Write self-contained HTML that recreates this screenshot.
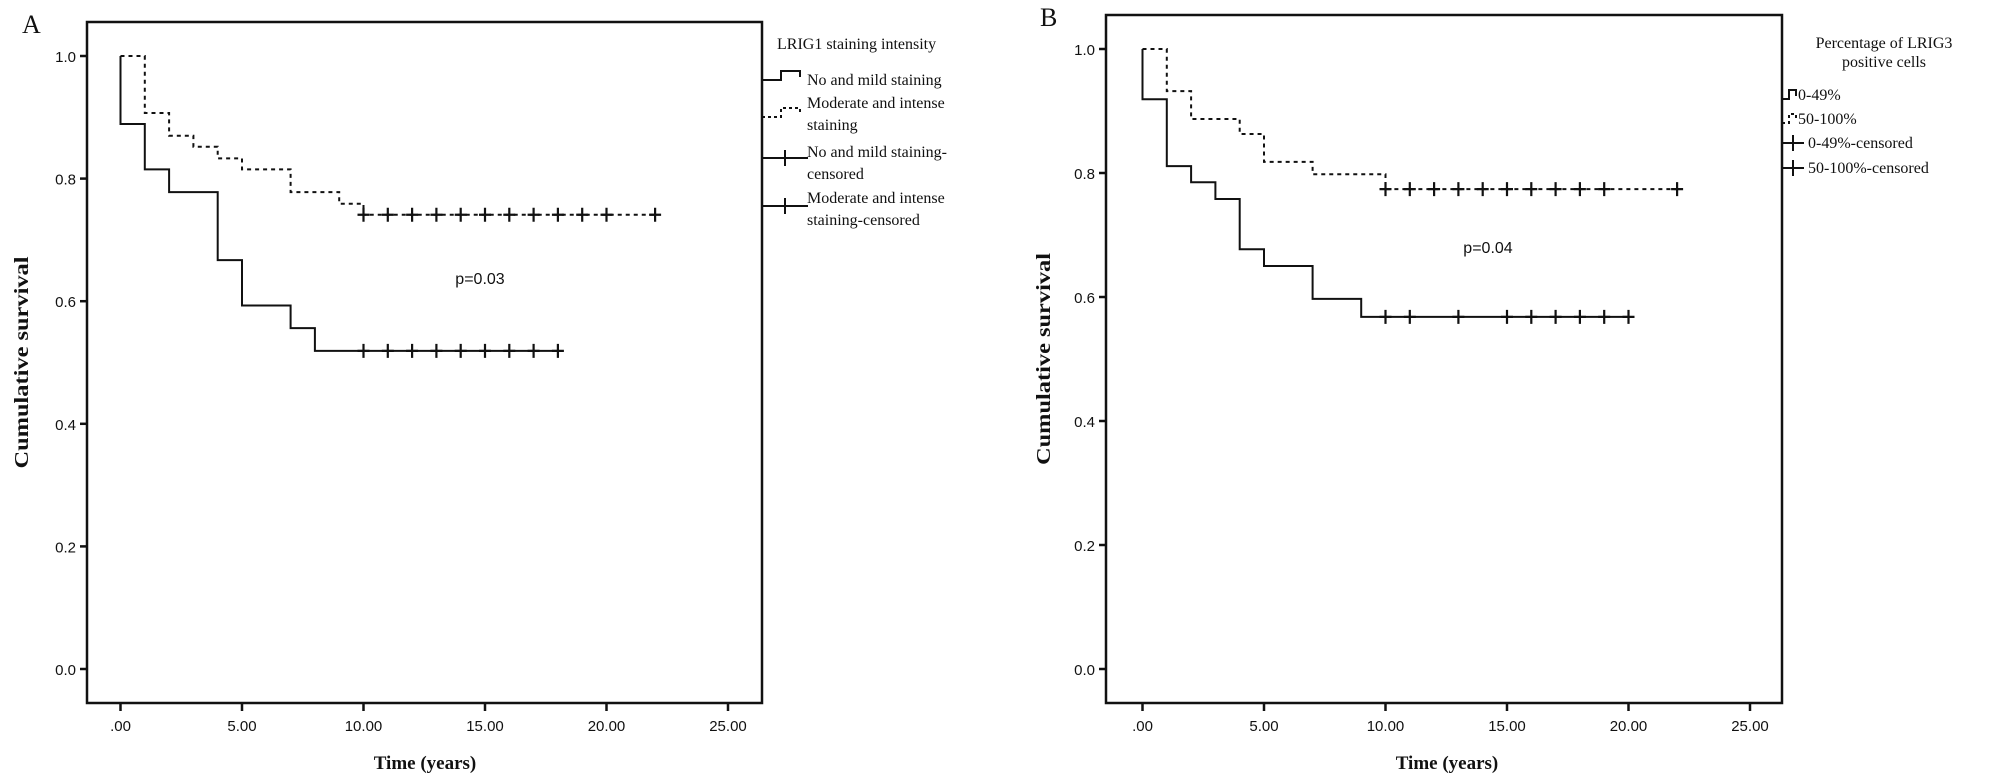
<!DOCTYPE html>
<html><head><meta charset="utf-8"><style>
html,body{margin:0;padding:0;background:#fff;}
svg{display:block;}
text{fill:#111;}
.tick{font-family:"Liberation Sans",sans-serif;font-size:15px;}
.ttl{font-family:"Liberation Serif",serif;font-size:19px;font-weight:bold;}
.leg{font-family:"Liberation Serif",serif;font-size:16px;}
.pv{font-family:"Liberation Sans",sans-serif;font-size:16px;}
.pl{font-family:"Liberation Serif",serif;font-size:26px;}
</style></head><body>
<svg id="chart" width="2008" height="781" viewBox="0 0 2008 781" xmlns="http://www.w3.org/2000/svg"></svg>
<script>
// Panel A data
const aTimesSolid = [0, 1, 2, 4, 5, 7, 8];
const aSurvSolid = [0.889, 0.815, 0.778, 0.667, 0.593, 0.556, 0.519];
const aEndSolid = 18;
const aCensSolid = [10, 11, 12, 13, 14, 15, 16, 17, 18];
const aTimesDash = [1, 2, 3, 4, 5, 7, 9, 10];
const aSurvDash = [0.907, 0.870, 0.852, 0.833, 0.815, 0.778, 0.759, 0.741];
const aEndDash = 22;
const aCensDash = [10, 11, 12, 13, 14, 15, 16, 17, 18, 19, 20, 22];
// Panel B data
const bTimesSolid = [0, 1, 2, 3, 4, 5, 7, 9];
const bSurvSolid = [0.919, 0.811, 0.785, 0.758, 0.677, 0.650, 0.597, 0.568];
const bEndSolid = 20;
const bCensSolid = [10, 11, 13, 15, 16, 17, 18, 19, 20];
const bTimesDash = [1, 2, 4, 5, 7, 10];
const bSurvDash = [0.932, 0.887, 0.863, 0.818, 0.798, 0.774];
const bEndDash = 22;
const bCensDash = [10, 11, 12, 13, 14, 15, 16, 17, 18, 19, 22];
// ticks
const yTicks = [0, 0.2, 0.4, 0.6, 0.8, 1.0];
const yTickLabels = ["0.0", "0.2", "0.4", "0.6", "0.8", "1.0"];
const xTicks = [0, 5, 10, 15, 20, 25];
const xTickLabels = [".00", "5.00", "10.00", "15.00", "20.00", "25.00"];

const NS = "http://www.w3.org/2000/svg";
const svg = document.getElementById('chart');
function mk(tag, attrs, parent, txt){
  const e = document.createElementNS(NS, tag);
  for (const k in attrs) e.setAttribute(k, attrs[k]);
  if (txt !== undefined) e.textContent = txt;
  (parent || svg).appendChild(e);
  return e;
}

function panel(cfg){
  const g = mk('g', {});
  
  
  const sx = t => cfg.x0 + t * cfg.pxYear;
  const sy = v => cfg.y0 - v * cfg.pxUnit;
  const frame = mk('rect', {x: cfg.L, y: cfg.T, width: cfg.R - cfg.L, height: cfg.B - cfg.T, fill: 'none', stroke: '#111', 'stroke-width': 2.5}, g);
  
  
  yTicks.forEach((v, i) => {
    mk('line', {x1: cfg.L - 7, x2: cfg.L, y1: sy(v), y2: sy(v), stroke: '#111', 'stroke-width': 2.5}, g);
    const t = mk('text', {x: cfg.L - 11, y: sy(v) + 6, 'text-anchor': 'end', class: 'tick'}, g, yTickLabels[i]);
    
    
  });
  xTicks.forEach((v, i) => {
    mk('line', {x1: sx(v), x2: sx(v), y1: cfg.B, y2: cfg.B + 8, stroke: '#111', 'stroke-width': 2.5}, g);
    const t = mk('text', {x: sx(v), y: 731, 'text-anchor': 'middle', class: 'tick'}, g, xTickLabels[i]);
    
    
  });
  const xt = mk('text', {x: cfg.xTitleX, y: 769, 'text-anchor': 'middle', class: 'ttl'}, g, 'Time (years)');
  
  
  const yt = mk('text', {x: 0, y: 0, 'text-anchor': 'middle', class: 'ttl', style: 'font-size:20px', transform: `translate(${cfg.yTitleX},${(cfg.T + cfg.B) / 2}) rotate(-90) scale(1.22,1)`}, g, 'Cumulative survival');
  
  
  const pl = mk('text', {x: cfg.letterX, y: cfg.letterY, class: 'pl'}, g, cfg.letter);
  
  
  const pv = mk('text', {x: cfg.pX, y: cfg.pY, 'text-anchor': 'middle', class: 'pv'}, g, cfg.pText);
  
  

  function curve(times, surv, end, cens, dashed, nm){
    let d = `M${sx(0)},${sy(1)}`;
    times.forEach((t, i) => { d += ` H${sx(t)} V${sy(surv[i])}`; });
    d += ` H${sx(end)}`;
    const p = mk('path', {d, fill: 'none', stroke: '#111', 'stroke-width': 2, 'stroke-dasharray': dashed ? '4,4' : 'none'}, g);
    
    
    const last = surv[surv.length - 1];
    cens.forEach(c => {
      const m = mk('path', {d: `M${sx(c) - 6},${sy(last)} H${sx(c) + 6} M${sx(c)},${sy(last) - 7} V${sy(last) + 7}`, stroke: '#111', 'stroke-width': 2.2, fill: 'none'}, g);
      
      
    });
  }
  curve(cfg.ts, cfg.ss, cfg.es, cfg.cs, false, 'solid-curve');
  curve(cfg.td, cfg.sd, cfg.ed, cfg.cd, true, 'dashed-curve');

  // legend
  const lg = mk('g', {}, g);
  
  
  cfg.legTitle.forEach((s, i) => {
    const t = mk('text', {x: cfg.legTitleX, y: cfg.legTitleY + i * 19, 'text-anchor': cfg.legTitleAnchor, class: 'leg'}, lg, s);
    
    
  });
  const sxL = cfg.R;
  cfg.legItems.forEach(it => {
    const e = mk('g', {}, lg);
    
    
    const y = it.sy;
    if (it.kind === 'solid' || it.kind === 'dash') {
      mk('path', {d: `M${sxL},${y} H${sxL + cfg.symW * 0.5} V${y - 9} H${sxL + cfg.symW} V${y - 3}`, fill: 'none', stroke: '#111', 'stroke-width': 2, 'stroke-dasharray': it.kind === 'dash' ? '3,3' : 'none'}, e);
    } else {
      mk('path', {d: `M${sxL},${y} H${sxL + cfg.symW + 8} M${sxL + (cfg.symW + 8) / 2},${y - 8} V${y + 8}`, fill: 'none', stroke: '#111', 'stroke-width': 2}, e);
    }
    it.lines.forEach((s, i) => {
      mk('text', {x: it.tx, y: it.ty + i * 22, class: 'leg'}, e, s);
    });
  });
}

panel({name: 'panel-a', L: 87, T: 22, R: 762, B: 703, x0: 120.5, pxYear: 24.3, y0: 669, pxUnit: 613,
  xTitleX: 425, yTitleX: 28, letter: 'A', letterX: 22, letterY: 33, pText: 'p=0.03', pX: 480, pY: 284,
  ts: aTimesSolid, ss: aSurvSolid, es: aEndSolid, cs: aCensSolid,
  td: aTimesDash, sd: aSurvDash, ed: aEndDash, cd: aCensDash,
  legTitle: ['LRIG1 staining intensity'], legTitleX: 777, legTitleY: 49, legTitleAnchor: 'start', symW: 38,
  legItems: [
    {kind: 'solid', sy: 80, tx: 807, ty: 85, lines: ['No and mild staining']},
    {kind: 'dash', sy: 117, tx: 807, ty: 108, lines: ['Moderate and intense', 'staining']},
    {kind: 'cens', sy: 158, tx: 807, ty: 157, lines: ['No and mild staining-', 'censored']},
    {kind: 'cens', sy: 206, tx: 807, ty: 203, lines: ['Moderate and intense', 'staining-censored']}
  ]});

panel({name: 'panel-b', L: 1106, T: 15, R: 1782, B: 703, x0: 1142.5, pxYear: 24.3, y0: 669, pxUnit: 620,
  xTitleX: 1447, yTitleX: 1050, letter: 'B', letterX: 1040, letterY: 26, pText: 'p=0.04', pX: 1488, pY: 253,
  ts: bTimesSolid, ss: bSurvSolid, es: bEndSolid, cs: bCensSolid,
  td: bTimesDash, sd: bSurvDash, ed: bEndDash, cd: bCensDash,
  legTitle: ['Percentage of LRIG3', 'positive cells'], legTitleX: 1884, legTitleY: 48, legTitleAnchor: 'middle', symW: 14,
  legItems: [
    {kind: 'solid', sy: 99, tx: 1798, ty: 100, lines: ['0-49%']},
    {kind: 'dash', sy: 123, tx: 1798, ty: 124, lines: ['50-100%']},
    {kind: 'cens', sy: 143, tx: 1808, ty: 148, lines: ['0-49%-censored']},
    {kind: 'cens', sy: 168, tx: 1808, ty: 173, lines: ['50-100%-censored']}
  ]});
</script>
</body></html>
